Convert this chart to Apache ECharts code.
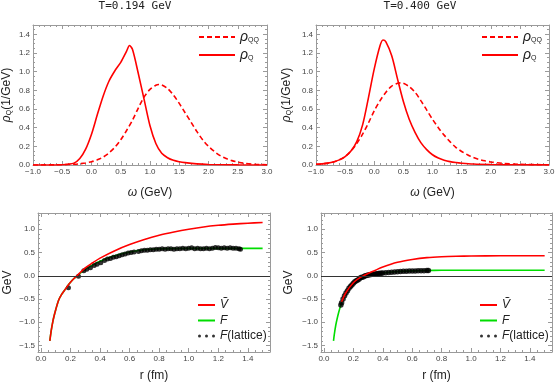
<!DOCTYPE html>
<html>
<head>
<meta charset="utf-8">
<script src="https://cdn.jsdelivr.net/npm/echarts@6.0.0/dist/echarts.min.js"></script>
<style>
  html, body { margin: 0; padding: 0; background: #fff; }
  #chart { width: 556px; height: 383px; }
</style>
</head>
<body>
<div id="chart"></div>
<script>
// ---- spectral functions, T = 0.194 GeV ----
const wQ_a = [-1.0, -0.8, -0.6, -0.5, -0.4, -0.3, -0.2, -0.1, 0.0, 0.1, 0.2, 0.3, 0.4, 0.5, 0.6, 0.65, 0.7, 0.8, 0.9, 1.0, 1.1, 1.2, 1.3, 1.4, 1.5, 1.6, 1.8, 2.0, 2.5, 3.0];
const rhoQ_a = [0, 0, 0.001, 0.003, 0.008, 0.02, 0.07, 0.17, 0.33, 0.54, 0.74, 0.9, 1.01, 1.1, 1.22, 1.28, 1.24, 0.98, 0.7, 0.42, 0.23, 0.125, 0.078, 0.05, 0.035, 0.025, 0.012, 0.006, 0.001, 0];
const wQQ_a = [-1.0, -0.8, -0.6, -0.4, -0.3, -0.2, -0.1, 0.0, 0.1, 0.2, 0.3, 0.4, 0.5, 0.6, 0.7, 0.8, 0.9, 1.0, 1.1, 1.15, 1.2, 1.3, 1.4, 1.5, 1.6, 1.7, 1.8, 1.9, 2.0, 2.1, 2.2, 2.3, 2.4, 2.5, 2.6, 2.8, 3.0];
const rhoQQ_a = [0, 0.001, 0.002, 0.005, 0.008, 0.013, 0.022, 0.035, 0.055, 0.085, 0.13, 0.19, 0.27, 0.37, 0.48, 0.61, 0.73, 0.81, 0.855, 0.863, 0.858, 0.82, 0.75, 0.66, 0.56, 0.46, 0.36, 0.27, 0.2, 0.145, 0.1, 0.07, 0.047, 0.031, 0.02, 0.008, 0.003];

// ---- spectral functions, T = 0.400 GeV ----
const wQ_b = [-1.0, -0.9, -0.8, -0.7, -0.6, -0.5, -0.4, -0.3, -0.2, -0.1, 0.0, 0.1, 0.15, 0.2, 0.3, 0.4, 0.5, 0.6, 0.7, 0.8, 0.9, 1.0, 1.1, 1.2, 1.3, 1.4, 1.5, 1.7, 2.0, 2.5, 3.0];
const rhoQ_b = [0.008, 0.012, 0.02, 0.033, 0.055, 0.09, 0.15, 0.25, 0.43, 0.72, 1.03, 1.28, 1.34, 1.32, 1.17, 0.92, 0.68, 0.49, 0.35, 0.24, 0.165, 0.11, 0.075, 0.052, 0.036, 0.026, 0.019, 0.01, 0.005, 0.002, 0.001];
const wQQ_b = [-1.0, -0.9, -0.8, -0.7, -0.6, -0.5, -0.4, -0.3, -0.2, -0.1, 0.0, 0.1, 0.2, 0.3, 0.4, 0.45, 0.5, 0.6, 0.7, 0.8, 0.9, 1.0, 1.1, 1.2, 1.3, 1.4, 1.5, 1.6, 1.7, 1.8, 1.9, 2.0, 2.2, 2.5, 3.0];
const rhoQQ_b = [0.008, 0.012, 0.02, 0.033, 0.055, 0.09, 0.15, 0.23, 0.33, 0.45, 0.58, 0.69, 0.78, 0.845, 0.875, 0.88, 0.875, 0.84, 0.78, 0.69, 0.59, 0.49, 0.4, 0.32, 0.25, 0.19, 0.145, 0.11, 0.08, 0.06, 0.045, 0.033, 0.018, 0.007, 0.002];

// ---- potentials, T = 0.194 GeV ----
const r_a = [0.06, 0.07, 0.08, 0.09, 0.10, 0.12, 0.14, 0.16, 0.18, 0.20, 0.22, 0.25, 0.30, 0.35, 0.40, 0.50, 0.60, 0.70, 0.80, 0.90, 1.00, 1.10, 1.20, 1.30, 1.40, 1.50];
const vTilde_a = [-1.40, -1.17, -0.99, -0.85, -0.73, -0.52, -0.40, -0.31, -0.22, -0.14, -0.07, 0.02, 0.17, 0.28, 0.38, 0.54, 0.67, 0.78, 0.87, 0.94, 1.00, 1.05, 1.085, 1.11, 1.13, 1.145];
const f_a = [-1.40, -1.17, -0.99, -0.85, -0.73, -0.52, -0.40, -0.31, -0.22, -0.14, -0.07, 0.01, 0.14, 0.23, 0.31, 0.43, 0.51, 0.56, 0.58, 0.585, 0.59, 0.59, 0.59, 0.59, 0.59, 0.59];
const latR_a = [0.186, 0.254, 0.29, 0.31, 0.335, 0.36, 0.38, 0.405, 0.43, 0.45, 0.47, 0.49, 0.51, 0.53, 0.55, 0.57, 0.59, 0.61, 0.63, 0.66, 0.68, 0.70, 0.72, 0.74, 0.76, 0.78, 0.80, 0.82, 0.84, 0.86, 0.88, 0.90, 0.92, 0.94, 0.96, 0.98, 1.00, 1.02, 1.04, 1.06, 1.08, 1.10, 1.12, 1.14, 1.16, 1.18, 1.20, 1.22, 1.24, 1.26, 1.28, 1.30, 1.32, 1.34, 1.35];
const latF_a = [-0.26, -0.01, 0.11, 0.14, 0.17, 0.22, 0.25, 0.28, 0.33, 0.36, 0.37, 0.40, 0.41, 0.43, 0.45, 0.47, 0.49, 0.50, 0.51, 0.52, 0.54, 0.55, 0.55, 0.56, 0.56, 0.57, 0.57, 0.58, 0.57, 0.58, 0.58, 0.57, 0.58, 0.58, 0.59, 0.58, 0.59, 0.60, 0.58, 0.59, 0.58, 0.58, 0.59, 0.58, 0.59, 0.61, 0.60, 0.59, 0.60, 0.59, 0.60, 0.59, 0.59, 0.58, 0.57];

// ---- potentials, T = 0.400 GeV ----
const rF_b = [0.065, 0.07, 0.08, 0.09, 0.10, 0.115, 0.13, 0.15, 0.17, 0.20, 0.25, 0.28, 0.30, 0.35, 0.40, 0.50, 0.60, 0.70, 0.80, 0.90, 1.0, 1.2, 1.5];
const f_b = [-1.40, -1.27, -1.07, -0.92, -0.79, -0.63, -0.50, -0.37, -0.27, -0.16, -0.04, 0.0, 0.015, 0.04, 0.06, 0.09, 0.105, 0.113, 0.118, 0.12, 0.12, 0.12, 0.12];
const rV_b = [0.12, 0.15, 0.2, 0.25, 0.27, 0.3, 0.35, 0.4, 0.5, 0.6, 0.7, 0.8, 0.9, 1.0, 1.2, 1.5];
const vTilde_b = [-0.56, -0.36, -0.15, -0.03, 0.0, 0.05, 0.12, 0.19, 0.29, 0.35, 0.39, 0.41, 0.42, 0.425, 0.43, 0.43];
const latR_b = [0.115, 0.12, 0.13, 0.14, 0.15, 0.16, 0.17, 0.18, 0.19, 0.20, 0.21, 0.22, 0.23, 0.24, 0.25, 0.26, 0.27, 0.28, 0.29, 0.30, 0.31, 0.32, 0.33, 0.34, 0.35, 0.36, 0.37, 0.38, 0.39, 0.40, 0.42, 0.44, 0.46, 0.48, 0.50, 0.52, 0.54, 0.56, 0.58, 0.60, 0.62, 0.64, 0.66, 0.68, 0.70, 0.71];
const latF_b = [-0.63, -0.58, -0.50, -0.43, -0.37, -0.32, -0.27, -0.23, -0.20, -0.16, -0.13, -0.11, -0.09, -0.07, -0.04, -0.03, -0.02, 0.0, 0.005, 0.015, 0.02, 0.025, 0.03, 0.035, 0.04, 0.045, 0.05, 0.052, 0.056, 0.06, 0.066, 0.072, 0.078, 0.083, 0.088, 0.092, 0.095, 0.098, 0.10, 0.103, 0.105, 0.107, 0.109, 0.11, 0.112, 0.113];

// ---- ticks ----
const omegaTicks = [-1.0, -0.5, 0.0, 0.5, 1.0, 1.5, 2.0, 2.5, 3.0];
const rhoTicks = [0.0, 0.2, 0.4, 0.6, 0.8, 1.0, 1.2, 1.4];
const rTicks = [0.0, 0.2, 0.4, 0.6, 0.8, 1.0, 1.2, 1.4];
const gevTicks = [-1.5, -1.0, -0.5, 0.0, 0.5, 1.0];

const titles = ['T=0.194 GeV', 'T=0.400 GeV'];

const RED = '#ff0000';
const GREEN = '#00dd00';
const FRAME = '#9a9a9a';
const LABEL = '#444';
const FONT = '"Liberation Sans", Arial, sans-serif';

function zip(xs, ys) { return xs.map((x, i) => [x, ys[i]]); }
function fmt(v) { return v.toFixed(1).replace('-', '\u2212'); }
function minorsOf(from, to, step, majors) {
  const out = [];
  for (let v = from; v <= to + 1e-9; v += step) {
    const r = Math.round(v * 1000) / 1000;
    if (!majors.some(m => Math.abs(m - r) < 1e-6)) out.push(r);
  }
  return out;
}

const xAxes = [];
const yAxes = [];

// framed axis: labelled side + mirrored side, each with major and minor ticks
function addFrame(list, sides, gi, min, max, majors, minors, main) {
  const idx = list.length;
  sides.forEach((pos, k) => {
    list.push(Object.assign({
      gridIndex: gi, type: 'value', min: min, max: max, position: pos,
      splitLine: { show: false },
      axisLine: { show: true, onZero: false, lineStyle: { color: FRAME, width: 1 } },
      axisTick: { show: true, inside: true, length: 4, customValues: majors, lineStyle: { color: FRAME } },
      axisLabel: k === 0
        ? { show: true, customValues: majors, formatter: fmt, margin: 3, fontSize: 8, color: LABEL, fontFamily: FONT }
        : { show: false }
    }, k === 0 ? main : {}));
    list.push({
      gridIndex: gi, type: 'value', min: min, max: max, position: pos,
      splitLine: { show: false },
      axisLine: { show: false, onZero: false },
      axisTick: { show: true, inside: true, length: 2, customValues: minors, lineStyle: { color: FRAME } },
      axisLabel: { show: false }
    });
  });
  return idx;
}

const grids = [
  { left: 33, top: 25, width: 234, height: 140 },
  { left: 316, top: 25, width: 233, height: 140 },
  { left: 38, top: 213, width: 232, height: 139 },
  { left: 321, top: 213, width: 231, height: 139 }
];

const rhoName = {
  name: '{r|\u03c1}{s|Q}{n|(1/GeV)}', nameLocation: 'middle',
  nameTextStyle: { rich: {
    r: { fontSize: 12, fontStyle: 'italic', fontFamily: FONT, color: '#222' },
    s: { fontSize: 7, fontFamily: FONT, color: '#222', padding: [5, 0, 0, 0] },
    n: { fontSize: 12, fontFamily: FONT, color: '#222' }
  } }
};
const omegaName = {
  name: '{w|\u03c9} (GeV)', nameLocation: 'middle', nameGap: 22,
  nameTextStyle: { fontSize: 12, fontFamily: FONT, color: '#222', rich: { w: { fontSize: 12, fontStyle: 'italic', fontFamily: FONT, color: '#222' } } }
};
const rName = { name: 'r (fm)', nameLocation: 'middle', nameGap: 18, nameTextStyle: { fontSize: 12, fontFamily: FONT, color: '#222' } };
const gevName = { name: 'GeV', nameLocation: 'middle', nameTextStyle: { fontSize: 12, fontFamily: FONT, color: '#222' } };

const ax = [];
// top panels
[0, 1].forEach(gi => {
  const xi = addFrame(xAxes, ['bottom', 'top'], gi, -1, 3, omegaTicks, minorsOf(-1, 3, 0.1, omegaTicks), omegaName);
  const yi = addFrame(yAxes, ['left', 'right'], gi, 0, 1.5, rhoTicks, minorsOf(0, 1.5, 0.05, rhoTicks),
    Object.assign({}, rhoName, { nameGap: gi === 0 ? 20 : 23 }));
  ax.push([xi, yi]);
});
// bottom panels
[2, 3].forEach(gi => {
  const xi = addFrame(xAxes, ['bottom', 'top'], gi, -0.02, 1.55, rTicks, minorsOf(0, 1.5, 0.05, rTicks), rName);
  const yi = addFrame(yAxes, ['left', 'right'], gi, -1.64, 1.35, gevTicks, minorsOf(-1.6, 1.3, 0.1, gevTicks),
    Object.assign({}, gevName, { nameGap: gi === 2 ? 24 : 26 }));
  ax.push([xi, yi]);
});

function lineSeries(name, gi, data, color, extra) {
  return Object.assign({
    name: name, type: 'line', xAxisIndex: ax[gi][0], yAxisIndex: ax[gi][1],
    data: data, symbol: 'none', smooth: 0.3, clip: true,
    lineStyle: { color: color, width: 1.6 }, itemStyle: { color: color }
  }, extra || {});
}
function zeroLine() {
  return {
    silent: true, symbol: ['none', 'none'], label: { show: false },
    lineStyle: { color: '#333', width: 1, type: 'solid' },
    data: [{ yAxis: 0 }]
  };
}
function latticeSeries(name, gi, data, size) {
  return {
    name: name, type: 'scatter', xAxisIndex: ax[gi][0], yAxisIndex: ax[gi][1],
    data: data, symbol: 'circle', symbolSize: size, z: 3,
    itemStyle: { color: '#000' }
  };
}

const series = [
  lineSeries('QQa', 0, zip(wQQ_a, rhoQQ_a), RED, { lineStyle: { color: RED, width: 1.6, type: [5, 3] } }),
  lineSeries('Qa', 0, zip(wQ_a, rhoQ_a), RED),
  lineSeries('QQb', 1, zip(wQQ_b, rhoQQ_b), RED, { lineStyle: { color: RED, width: 1.6, type: [5, 3] } }),
  lineSeries('Qb', 1, zip(wQ_b, rhoQ_b), RED),
  lineSeries('Fa', 2, zip(r_a, f_a), GREEN, { z: 2, markLine: zeroLine() }),
  latticeSeries('La', 2, zip(latR_a, latF_a), 5),
  lineSeries('Va', 2, zip(r_a, vTilde_a), RED, { z: 4 }),
  lineSeries('Fb', 3, zip(rF_b, f_b), GREEN, { z: 2, markLine: zeroLine() }),
  latticeSeries('Lb', 3, zip(latR_b, latF_b), 5.5),
  lineSeries('Vb', 3, zip(rV_b, vTilde_b), RED, { z: 4 })
];

const legendText = {
  QQa: '{r|\u03c1}{s|QQ}', Qa: '{r|\u03c1}{s|Q}', QQb: '{r|\u03c1}{s|QQ}', Qb: '{r|\u03c1}{s|Q}',
  Va: '{i|\u1e7c}', Fa: '{i|F}', La: '{i|F}(lattice)',
  Vb: '{i|\u1e7c}', Fb: '{i|F}', Lb: '{i|F}(lattice)'
};
const legendRich = {
  r: { fontSize: 14, fontStyle: 'italic', fontFamily: FONT, color: '#222' },
  s: { fontSize: 7, fontFamily: FONT, color: '#222', padding: [7, 0, 0, 0] },
  i: { fontSize: 12, fontStyle: 'italic', fontFamily: FONT, color: '#222' }
};
const dotsIcon = 'path://M0,1.5A1.5,1.5 0 1 0 3,1.5A1.5,1.5 0 1 0 0,1.5Z M7,1.5A1.5,1.5 0 1 0 10,1.5A1.5,1.5 0 1 0 7,1.5Z M14,1.5A1.5,1.5 0 1 0 17,1.5A1.5,1.5 0 1 0 14,1.5Z';

function topLegend(left, names) {
  return {
    left: left, top: 25, orient: 'vertical', itemWidth: 36, itemHeight: 10, itemGap: 4,
    selectedMode: false, data: names, itemStyle: { opacity: 0 },
    formatter: n => legendText[n], textStyle: { fontSize: 13, color: '#222', rich: legendRich }
  };
}
function bottomLegend(left, names) {
  return {
    left: left, top: 294, orient: 'vertical', itemWidth: 17, itemHeight: 10, itemGap: 3.5,
    selectedMode: false,
    data: [
      { name: names[0], itemStyle: { opacity: 0 } },
      { name: names[1], itemStyle: { opacity: 0 } },
      { name: names[2], icon: dotsIcon, itemStyle: { color: '#000' } }
    ],
    formatter: n => legendText[n], textStyle: { fontSize: 12, color: '#222', fontFamily: FONT, rich: legendRich }
  };
}

const chart = echarts.init(document.getElementById('chart'), null, { renderer: 'canvas' });
chart.setOption({
  animation: false,
  backgroundColor: '#fff',
  grid: grids.map(g => Object.assign({ outerBoundsMode: 'none' }, g)),
  xAxis: xAxes,
  yAxis: yAxes,
  legend: [
    topLegend(193, ['QQa', 'Qa']),
    topLegend(476, ['QQb', 'Qb']),
    bottomLegend(192, ['Va', 'Fa', 'La']),
    bottomLegend(474, ['Vb', 'Fb', 'Lb'])
  ],
  graphic: [
    { type: 'text', x: 135, y: 6, style: { text: titles[0], font: '11px "DejaVu Sans Mono", monospace', fill: '#222', textAlign: 'center', textVerticalAlign: 'middle' } },
    { type: 'text', x: 420, y: 6, style: { text: titles[1], font: '11px "DejaVu Sans Mono", monospace', fill: '#222', textAlign: 'center', textVerticalAlign: 'middle' } }
  ],
  series: series
});
</script>
</body>
</html>
